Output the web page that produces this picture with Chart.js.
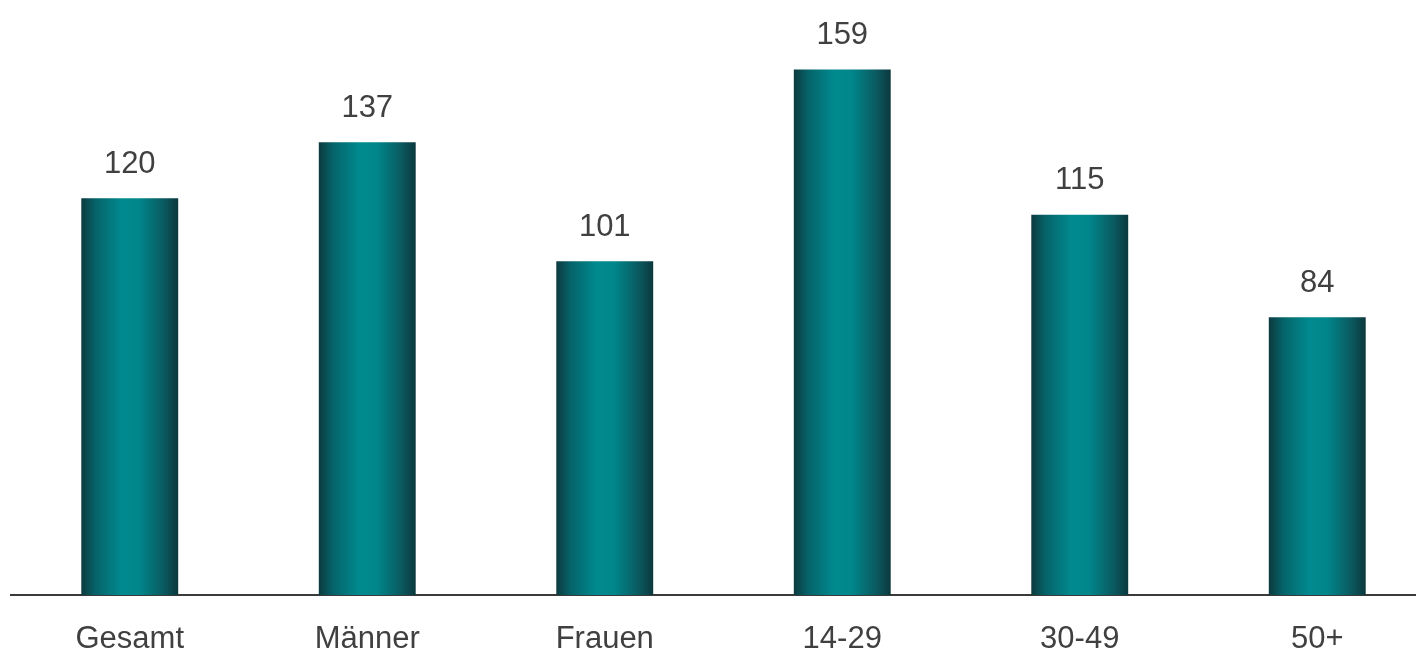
<!DOCTYPE html>
<html>
<head>
<meta charset="utf-8">
<script src="https://cdn.jsdelivr.net/npm/chart.js@4.4.1/dist/chart.umd.min.js"></script>
<style>
  html, body { margin: 0; padding: 0; background: #fff; overflow: hidden; }
  #wrap { width: 1440px; height: 656px; }
</style>
</head>
<body>
<div id="wrap"><canvas id="barChart" width="1440" height="656"></canvas></div>
<script>
// categories and values
const categories = ['Gesamt', 'Männer', 'Frauen', '14-29', '30-49', '50+'];
const values = [120, 137, 101, 159, 115, 84];

const textColor = '#404040';
const fontFamily = '"Liberation Sans", Arial, sans-serif';
const barPct = 0.408;

// horizontal cylinder-like shading, one gradient per bar
function barGradient(c) {
    const chart = c.chart;
    const xs = chart.scales.x;
    if (!chart.chartArea || !xs || c.dataIndex === undefined) return '#008a8f';
    const cx = xs.getPixelForValue(c.dataIndex);
    const w = (xs.width / categories.length) * barPct;
    const left = cx - w / 2;
    const g = chart.ctx.createLinearGradient(left, 0, left + w, 0);
    g.addColorStop(0, '#0c3a3e');
    g.addColorStop(0.15, '#05646a');
    g.addColorStop(0.42, '#008a8f');
    g.addColorStop(0.6, '#00868b');
    g.addColorStop(0.85, '#0a5a60');
    g.addColorStop(1, '#0b383c');
    return g;
}

// value above each bar
const valueLabels = {
    id: 'valueLabels',
    afterDatasetsDraw(chart) {
        const ctx = chart.ctx;
        ctx.save();
        ctx.font = '31px ' + fontFamily;
        ctx.fillStyle = textColor;
        ctx.textAlign = 'center';
        ctx.textBaseline = 'middle';
        chart.getDatasetMeta(0).data.forEach((bar, i) => {
            ctx.fillText(String(values[i]), bar.x, bar.y - 34);
        });
        ctx.restore();
    }
};

new Chart(document.getElementById('barChart').getContext('2d'), {
    type: 'bar',
    data: {
        labels: categories,
        datasets: [{
            data: values,
            backgroundColor: barGradient,
            borderWidth: 0,
            barPercentage: barPct,
            categoryPercentage: 1
        }]
    },
    options: {
        responsive: false,
        animation: false,
        layout: { padding: { left: 11, right: 4, top: 0, bottom: 0 } },
        plugins: {
            legend: { display: false },
            tooltip: { enabled: false }
        },
        scales: {
            y: {
                display: false,
                min: 0,
                max: 180
            },
            x: {
                grid: { display: false, drawTicks: false },
                border: { display: true, color: '#3a3a3a', width: 2 },
                ticks: {
                    color: textColor,
                    padding: 26,
                    font: { family: fontFamily, size: 31 }
                },
                afterFit(scale) { scale.height = 61; }
            }
        }
    },
    plugins: [valueLabels]
});
</script>
</body>
</html>
